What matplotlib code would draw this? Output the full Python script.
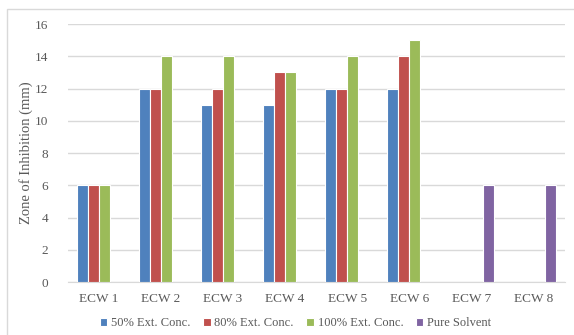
import numpy as np
from matplotlib import pyplot as plt
from matplotlib.patches import Rectangle

samples = ['ECW 1', 'ECW 2', 'ECW 3', 'ECW 4', 'ECW 5', 'ECW 6', 'ECW 7', 'ECW 8']
ext50 = [6, 12, 11, 11, 12, 12, 0, 0]
ext80 = [6, 12, 12, 13, 12, 14, 0, 0]
ext100 = [6, 14, 14, 13, 14, 15, 0, 0]
solvent = [0, 0, 0, 0, 0, 0, 6, 6]

series_names = ['50% Ext. Conc.', '80% Ext. Conc.', '100% Ext. Conc.', 'Pure Solvent']
series_colors = ['#4F81BD', '#C0504D', '#9BBB59', '#8064A2']

plt.rcParams['font.family'] = ['Liberation Serif', 'DejaVu Serif']

fig = plt.figure(figsize=(5.74, 3.35), dpi=100)
ax = fig.add_axes([0.1176, 0.158, 0.8664, 0.770])

# outer frame of the chart area
fig.patches.append(Rectangle((7 / 574, -0.05), 1.0, 1 - 9 / 335 + 0.05,
                             transform=fig.transFigure, fill=False,
                             edgecolor='#d9d9d9', linewidth=1))

x = np.arange(len(samples))
w = 0.177
all_series = [ext50, ext80, ext100, solvent]
for i, vals in enumerate(all_series):
    ax.bar(x + (i - 1.5) * w, vals, width=w, color=series_colors[i],
           edgecolor='white', linewidth=0.8, label=series_names[i], zorder=3)

ax.set_xlim(-0.5, len(samples) - 0.5)
ax.set_ylim(0, 16)
ax.set_yticks(range(0, 17, 2))
ax.set_xticks(x)
ax.set_xticklabels(samples)
ax.grid(axis='y', color='#d9d9d9', linewidth=1, zorder=0)
for s in ['top', 'right', 'left']:
    ax.spines[s].set_visible(False)
ax.spines['bottom'].set_color('#d9d9d9')
ax.tick_params(length=0, colors='#595959', labelsize=9.5)
ax.tick_params(axis='x', pad=8)
ax.tick_params(axis='y', pad=14)
ax.set_ylabel('Zone of Inhibition (mm)', color='#595959', fontsize=10.5)
ax.yaxis.set_label_coords(-0.069, 0.5)

fig.legend(loc='center', bbox_to_anchor=(0.515, 0.036), ncol=4, frameon=False,
           fontsize=9, handlelength=0.6, handleheight=0.6, handletextpad=0.3,
           columnspacing=1.0, labelcolor='#595959')

fig.savefig('out.png', dpi=100)
